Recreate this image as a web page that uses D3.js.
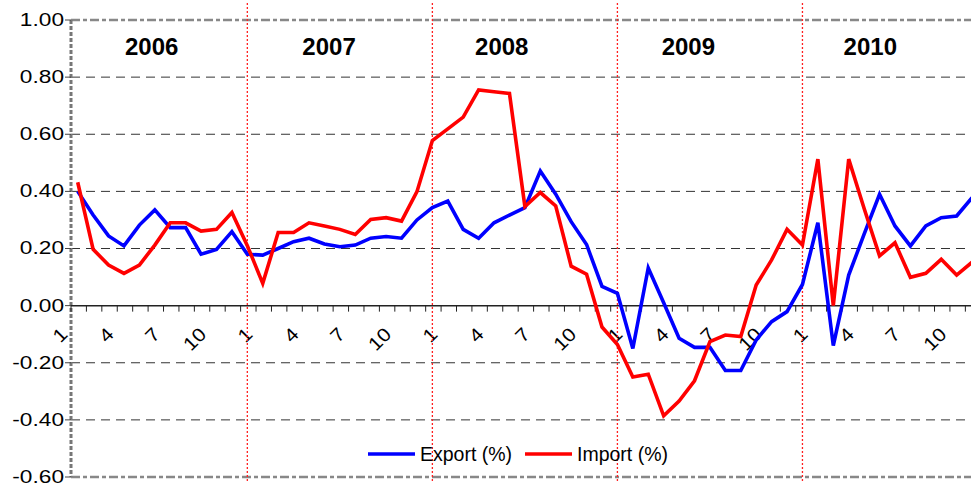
<!DOCTYPE html>
<html>
<head>
<meta charset="utf-8">
<script src="https://cdn.jsdelivr.net/npm/d3@7/dist/d3.min.js"></script>
<style>
body{margin:0;background:#fff;}
svg{display:block;font-family:"Liberation Sans",Arial,sans-serif;}
</style>
</head>
<body>
<svg id="chart" width="971" height="483"></svg>
<script>
// monthly growth, Jan 2006 .. Nov 2010 (chart is cut off on the right)
var years = [2006, 2007, 2008, 2009, 2010];
var tickMonths = [1, 4, 7, 10];
var yTicks = [-0.6, -0.4, -0.2, 0, 0.2, 0.4, 0.6, 0.8, 1.0];
var seriesNames = ["Export (%)", "Import (%)"];

var exportPct = [
  0.40, 0.317, 0.244, 0.209, 0.282, 0.335, 0.273, 0.273, 0.18, 0.197, 0.259, 0.18,
  0.177, 0.20, 0.224, 0.236, 0.216, 0.206, 0.212, 0.236, 0.242, 0.236, 0.30, 0.343,
  0.366, 0.267, 0.236, 0.29, 0.317, 0.343, 0.471, 0.39, 0.294, 0.214, 0.067, 0.043,
  -0.15, 0.132, 0.01, -0.114, -0.146, -0.146, -0.227, -0.227, -0.12, -0.056, -0.021, 0.074,
  0.29, -0.14, 0.107, 0.25, 0.39, 0.279, 0.209, 0.279, 0.308, 0.314, 0.378
];
var importPct = [
  0.432, 0.197, 0.142, 0.113, 0.142, 0.212, 0.29, 0.29, 0.261, 0.267, 0.326, 0.21,
  0.078, 0.256, 0.256, 0.29, 0.279, 0.267, 0.249, 0.302, 0.308, 0.296, 0.399, 0.578,
  0.619, 0.66, 0.755, 0.749, 0.743, 0.347, 0.396, 0.349, 0.138, 0.11, -0.075, -0.136,
  -0.25, -0.24, -0.386, -0.334, -0.263, -0.126, -0.103, -0.108, 0.072, 0.16, 0.267, 0.212,
  0.513, 0.0, 0.513, 0.34, 0.174, 0.22, 0.099, 0.113, 0.162, 0.107, 0.152
];

// where the year captions sit, in months from January of that year (hand placed text boxes)
var yearCaptionAt = [4.8, 4.3, 3.5, 3.6, 3.4];

var months = [];
years.forEach(function(yr){
  d3.range(1, 13).forEach(function(m){ months.push({year: yr, month: m}); });
});

var W = 971, H = 483;
var plotLeft = 70, plotTop = 20, plotBottom = 477, step = 15.42;

var svg = d3.select("#chart");

var x = d3.scaleBand()
  .domain(d3.range(months.length))
  .range([plotLeft, plotLeft + months.length * step]);
var y = d3.scaleLinear().domain([-0.6, 1.0]).range([plotBottom, plotTop]);
var cx = function(i){ return x(i) + x.bandwidth() / 2; };

var fmt = d3.formatLocale({decimal: ".", thousands: ",", grouping: [3], currency: ["", ""], minus: "-"}).format(".2f");

// grid lines
svg.append("g").selectAll("line")
  .data(yTicks.filter(function(t){ return t != 0 && t != -0.6 && t != 1.0; }))
  .join("line")
  .attr("x1", plotLeft + 1).attr("x2", W)
  .attr("y1", function(d){ return y(d); }).attr("y2", function(d){ return y(d); })
  .attr("stroke", "#333").attr("stroke-width", 1)
  .attr("stroke-dasharray", "9,6");

// plot frame top / bottom (grey dashed)
svg.append("g").selectAll("line")
  .data([1.0, -0.6])
  .join("line")
  .attr("x1", plotLeft + 1).attr("x2", W)
  .attr("y1", function(d){ return y(d); }).attr("y2", function(d){ return y(d); })
  .attr("stroke", "#888").attr("stroke-width", 2.5)
  .attr("stroke-dasharray", "9,3,4,3");

// left axis
svg.append("line")
  .attr("x1", plotLeft + 1).attr("x2", plotLeft + 1)
  .attr("y1", y(1.0)).attr("y2", y(-0.6))
  .attr("stroke", "#777").attr("stroke-width", 3)
  .attr("stroke-dasharray", "4,2");

svg.append("g").selectAll("line")
  .data(yTicks)
  .join("line")
  .attr("x1", plotLeft - 5).attr("x2", plotLeft + 1)
  .attr("y1", function(d){ return y(d); }).attr("y2", function(d){ return y(d); })
  .attr("stroke", "#444").attr("stroke-width", 1);

// tick labels are drawn a bit wide, like the stretched original
svg.append("g").selectAll("text")
  .data(yTicks)
  .join("text")
  .attr("transform", function(d){ return "translate(" + (plotLeft - 6) + "," + (y(d) - 0.5) + ") scale(1.26,1)"; })
  .attr("dy", "0.36em")
  .attr("text-anchor", "end")
  .style("font-size", "18px")
  .text(function(d){ return fmt(d); });

// zero line with month ticks
svg.append("line")
  .attr("x1", plotLeft + 1).attr("x2", W)
  .attr("y1", y(0)).attr("y2", y(0))
  .attr("stroke", "#222").attr("stroke-width", 1.5);

svg.append("g").selectAll("line")
  .data(months)
  .join("line")
  .attr("x1", function(d, i){ return x(i) + 1; })
  .attr("x2", function(d, i){ return x(i) + 1; })
  .attr("y1", y(0)).attr("y2", y(0) + 6)
  .attr("stroke", "#222").attr("stroke-width", 1);

// month labels 1,4,7,10
svg.append("g").selectAll("text")
  .data(months.map(function(d, i){ return {m: d.month, i: i}; })
    .filter(function(d){ return tickMonths.indexOf(d.m) >= 0; }))
  .join("text")
  .attr("text-anchor", "end")
  .attr("transform", function(d){ return "translate(" + (cx(d.i) - 9) + "," + (y(0) + 30) + ") rotate(-45) scale(1.1,1)"; })
  .style("font-size", "19px")
  .text(function(d){ return d.m; });

// year separators (dotted red, at each December)
svg.append("g").selectAll("line")
  .data(months.map(function(d, i){ return {d: d, i: i}; })
    .filter(function(o){ return o.d.month == 12 && o.d.year < years[years.length - 1]; }))
  .join("line")
  .attr("x1", function(o){ return cx(o.i); }).attr("x2", function(o){ return cx(o.i); })
  .attr("y1", 3).attr("y2", H)
  .attr("stroke", "#ff2020").attr("stroke-width", 1.3)
  .attr("stroke-dasharray", "2,2");

// year captions
svg.append("g").selectAll("text")
  .data(years)
  .join("text")
  .attr("x", function(yr, k){ return cx(k * 12) + yearCaptionAt[k] * step; })
  .attr("y", 55)
  .attr("text-anchor", "middle")
  .style("font-size", "24px")
  .style("font-weight", "bold")
  .text(function(yr){ return yr; });

// series
var line = d3.line()
  .x(function(d, i){ return cx(i); })
  .y(function(d){ return y(d); });

svg.append("path")
  .datum(exportPct)
  .attr("d", line)
  .attr("fill", "none")
  .attr("stroke", "#0000ff")
  .attr("stroke-width", 3.6)
  .attr("stroke-linejoin", "miter");

svg.append("path")
  .datum(importPct)
  .attr("d", line)
  .attr("fill", "none")
  .attr("stroke", "#ff0000")
  .attr("stroke-width", 3.6)
  .attr("stroke-linejoin", "miter");

// legend
var legend = svg.append("g").attr("transform", "translate(368,454)");
var colors = ["#0000ff", "#ff0000"];
var offsets = [0, 157];
seriesNames.forEach(function(name, k){
  var g = legend.append("g").attr("transform", "translate(" + offsets[k] + ",0)");
  g.append("line").attr("x1", 0).attr("x2", 47).attr("y1", 0).attr("y2", 0)
    .attr("stroke", colors[k]).attr("stroke-width", 3.6);
  g.append("text").attr("x", 52).attr("y", 6.5)
    .style("font-size", "19.5px")
    .text(name);
});
</script>
</body>
</html>
